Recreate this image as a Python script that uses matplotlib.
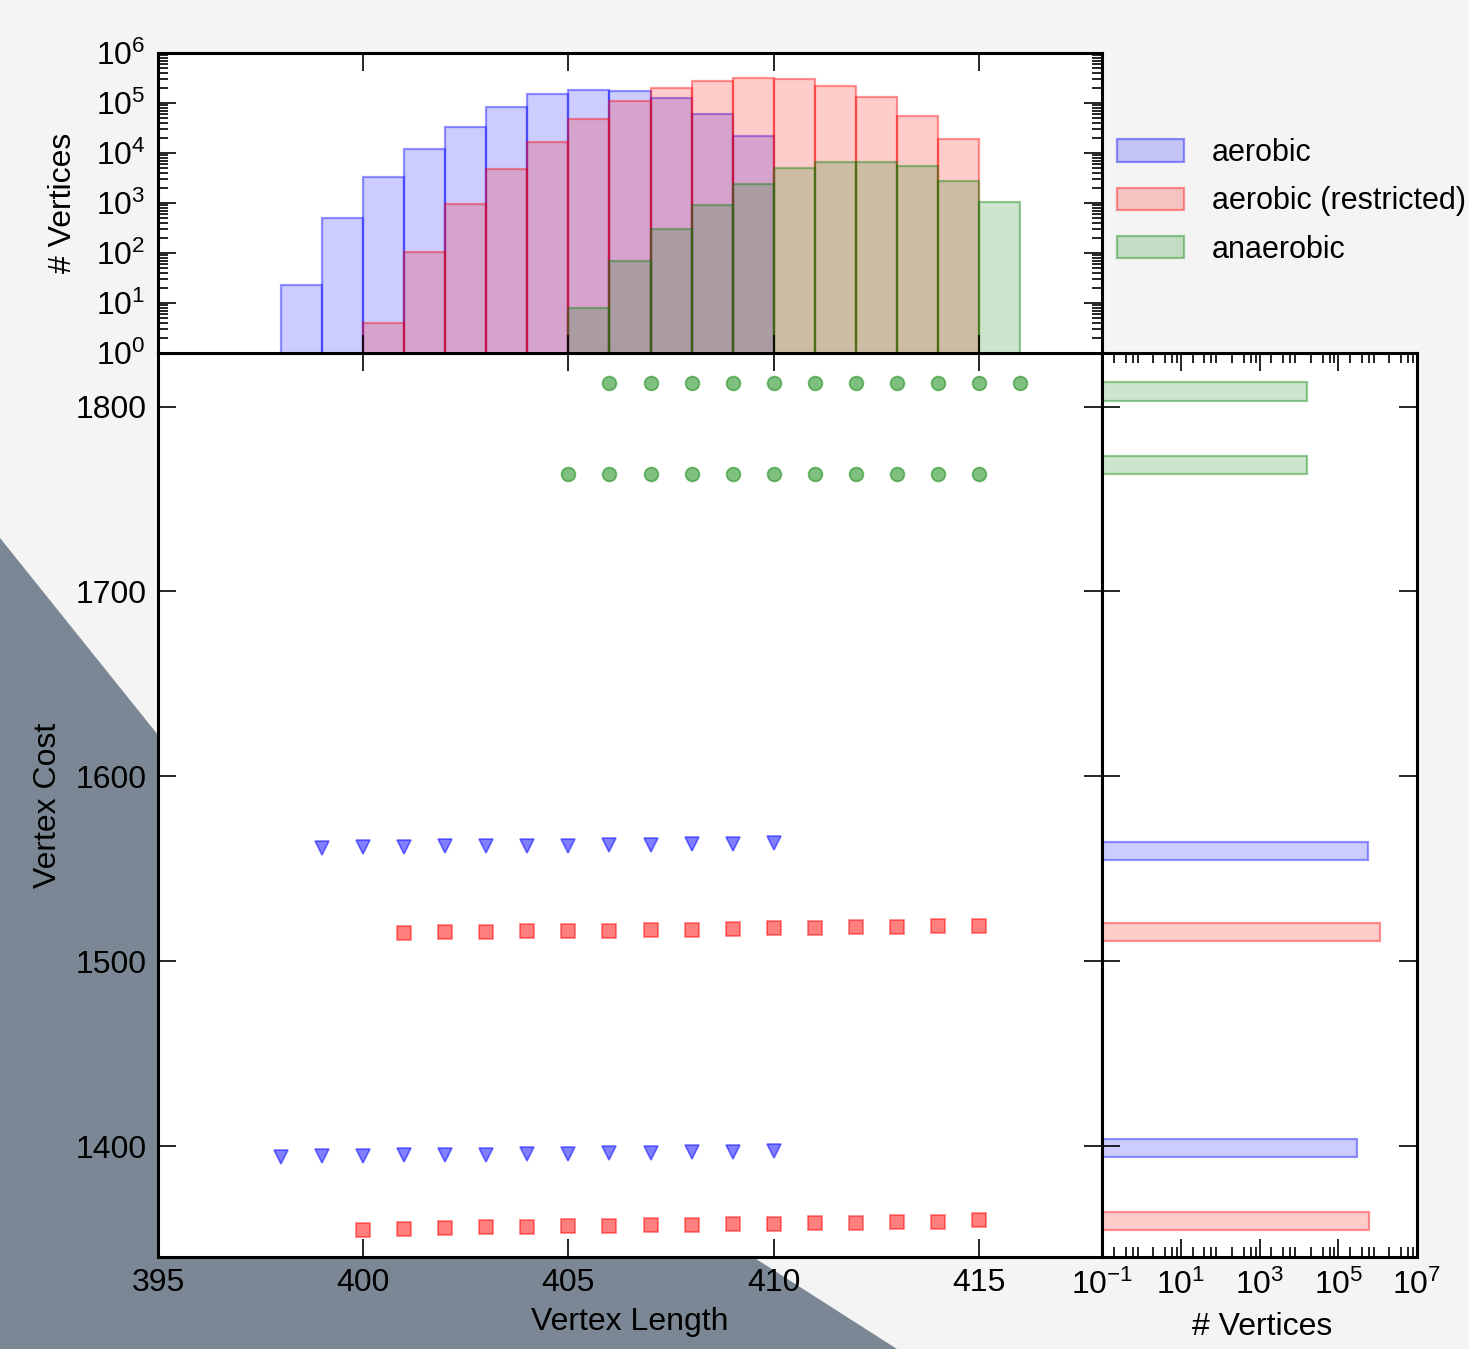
import matplotlib
matplotlib.use('Agg')
import matplotlib.pyplot as plt
from matplotlib.patches import Polygon
from matplotlib.ticker import FixedLocator, LogLocator, NullFormatter
import numpy as np

plt.rcParams['font.family'] = ['Liberation Sans', 'DejaVu Sans']
plt.rcParams['font.size'] = 23
plt.rcParams['mathtext.fontset'] = 'custom'
plt.rcParams['mathtext.rm'] = 'Liberation Sans'
plt.rcParams['mathtext.it'] = 'Liberation Sans:italic'
plt.rcParams['mathtext.bf'] = 'Liberation Sans:bold'
plt.rcParams['mathtext.sf'] = 'Liberation Sans'

# scatter: vertex length vs vertex cost
aer_len_hi = [399, 400, 401, 402, 403, 404, 405, 406, 407, 408, 409, 410]
aer_cost_hi = [1561.2, 1561.6, 1561.8, 1562.2, 1562.2, 1562.3, 1562.5, 1562.7, 1562.9, 1563.2, 1563.2, 1564.0]
aer_len_lo = [398, 399, 400, 401, 402, 403, 404, 405, 406, 407, 408, 409, 410]
aer_cost_lo = [1394.0, 1394.5, 1394.8, 1395.1, 1395.2, 1395.3, 1395.7, 1395.9, 1396.0, 1396.4, 1396.6, 1396.8, 1397.4]

res_len_hi = [401, 402, 403, 404, 405, 406, 407, 408, 409, 410, 411, 412, 413, 414, 415]
res_cost_hi = [1515.0, 1515.6, 1515.9, 1516.1, 1516.3, 1516.6, 1516.9, 1517.1, 1517.5, 1517.8, 1518.1, 1518.4, 1518.6, 1518.9, 1519.3]
res_len_lo = [400, 401, 402, 403, 404, 405, 406, 407, 408, 409, 410, 411, 412, 413, 414, 415]
res_cost_lo = [1354.6, 1355.0, 1355.5, 1356.0, 1356.3, 1356.5, 1356.7, 1357.1, 1357.3, 1357.7, 1358.0, 1358.2, 1358.6, 1358.8, 1359.2, 1360.0]

ana_len_hi = [406, 407, 408, 409, 410, 411, 412, 413, 414, 415, 416]
ana_cost_hi = [1813.0] * 11
ana_len_lo = [405, 406, 407, 408, 409, 410, 411, 412, 413, 414, 415]
ana_cost_lo = [1763.3] * 11

# length histogram (left bin edges, counts)
aer_bins = [398, 399, 400, 401, 402, 403, 404, 405, 406, 407, 408, 409]
aer_counts = [23, 494, 3250, 12000, 33100, 84500, 149000, 178000, 174000, 124000, 60300, 22100]
res_bins = [400, 401, 402, 403, 404, 405, 406, 407, 408, 409, 410, 411, 412, 413, 414]
res_counts = [4, 103, 955, 4790, 16300, 47000, 110000, 197000, 275000, 320000, 296000, 219000, 130000, 55000, 19000]
ana_bins = [405, 406, 407, 408, 409, 410, 411, 412, 413, 414, 415]
ana_counts = [8, 70, 302, 912, 2450, 5100, 6500, 6500, 5400, 2700, 1060]

# cost histogram (bin low, bin high, counts)
aer_cbin_lo = [1394.3, 1554.9]
aer_cbin_hi = [1404.1, 1564.6]
aer_ccounts = [300000, 577000]
res_cbin_lo = [1354.8, 1510.7]
res_cbin_hi = [1364.6, 1520.5]
res_ccounts = [590000, 1170000]
ana_cbin_lo = [1763.3, 1803.3]
ana_cbin_hi = [1773.1, 1813.1]
ana_ccounts = [16500, 16500]

labels = ['aerobic', 'aerobic (restricted)', 'anaerobic']
colors = ['#0000ff', '#ff0000', '#008000']

W, H = 1469, 1349
fig = plt.figure(figsize=(W / 100, H / 100), dpi=100, facecolor='#f4f4f4')

# slate background shape, lower left
pts = [(0, 538), (158, 735), (753, 1257), (897, 1349), (0, 1349)]
fig.patches.append(Polygon([(x / W, 1 - y / H) for x, y in pts], closed=True,
                           transform=fig.transFigure, facecolor='#7b8794',
                           edgecolor='none', zorder=-10))


def fx(p):
    return p / W


def fy(p):
    return 1 - p / H


ax = fig.add_axes([fx(158), fy(1257), (1102 - 158) / W, (1257 - 353) / H])
axt = fig.add_axes([fx(158), fy(353), (1102 - 158) / W, (353 - 53) / H], sharex=ax)
axr = fig.add_axes([fx(1102), fy(1257), (1417 - 1102) / W, (1257 - 353) / H], sharey=ax)

ms = 10
ax.plot(aer_len_hi, aer_cost_hi, 'v', color=colors[0], alpha=0.5, ms=ms, mew=1.2)
ax.plot(aer_len_lo, aer_cost_lo, 'v', color=colors[0], alpha=0.5, ms=ms, mew=1.2)
ax.plot(res_len_hi, res_cost_hi, 's', color=colors[1], alpha=0.5, ms=ms, mew=1.2)
ax.plot(res_len_lo, res_cost_lo, 's', color=colors[1], alpha=0.5, ms=ms, mew=1.2)
ax.plot(ana_len_hi, ana_cost_hi, 'o', color=colors[2], alpha=0.5, ms=ms, mew=1.2)
ax.plot(ana_len_lo, ana_cost_lo, 'o', color=colors[2], alpha=0.5, ms=ms, mew=1.2)

ax.set_xlim(395, 418)
ax.set_ylim(1340, 1829)
ax.set_xticks([395, 400, 405, 410, 415])
ax.set_yticks([1400, 1500, 1600, 1700, 1800])

hist_sets = [(aer_bins, aer_counts), (res_bins, res_counts), (ana_bins, ana_counts)]
for (b, c), col, lab in zip(hist_sets, colors, labels):
    rgb = matplotlib.colors.to_rgb(col)
    axt.bar(b, c, width=1, align='edge', facecolor=rgb + (0.2,),
            edgecolor=rgb + (0.4,), linewidth=1.6, label=lab)
axt.set_yscale('log')
axt.set_ylim(1, 1e6)
axt.yaxis.set_major_locator(FixedLocator([1e0, 1e1, 1e2, 1e3, 1e4, 1e5, 1e6]))
axt.yaxis.set_minor_locator(LogLocator(base=10, subs=np.arange(2, 10), numticks=20))
axt.yaxis.set_minor_formatter(NullFormatter())
axt.tick_params(labelbottom=False)

cost_sets = [(aer_cbin_lo, aer_cbin_hi, aer_ccounts),
             (res_cbin_lo, res_cbin_hi, res_ccounts),
             (ana_cbin_lo, ana_cbin_hi, ana_ccounts)]
for (lo, hi, c), col in zip(cost_sets, colors):
    rgb = matplotlib.colors.to_rgb(col)
    axr.barh(lo, c, height=np.array(hi) - np.array(lo), align='edge',
             facecolor=rgb + (0.2,), edgecolor=rgb + (0.4,), linewidth=1.6)
axr.set_xscale('log')
axr.set_xlim(1e-1, 1e7)
axr.xaxis.set_major_locator(FixedLocator([1e-1, 1e1, 1e3, 1e5, 1e7]))
axr.xaxis.set_minor_locator(LogLocator(base=10, subs=(2, 4, 6, 8), numticks=30))
axr.xaxis.set_minor_formatter(NullFormatter())
axr.tick_params(labelleft=False)

for a in (ax, axt, axr):
    for s in a.spines.values():
        s.set_linewidth(2.2)
    a.set_facecolor('white')
    a.tick_params(which='both', direction='in', top=True, right=True, width=1.2)
    a.tick_params(which='major', length=13)
    a.tick_params(which='minor', length=7)
ax.tick_params(axis='x', pad=8)
ax.tick_params(axis='y', pad=8)
axt.tick_params(axis='y', pad=9)
axr.tick_params(axis='x', pad=9)

ax.set_xlabel('Vertex Length', va='center')
ax.xaxis.set_label_coords(0.5, (1257 - 1322) / 904)
ax.set_ylabel('Vertex Cost', va='center')
ax.yaxis.set_label_coords((48 - 158) / 944, 0.5)
axt.set_ylabel('# Vertices', va='center')
axt.yaxis.set_label_coords((63 - 158) / 944, 0.5)
axr.set_xlabel('# Vertices', va='center')
axr.xaxis.set_label_coords(0.508, (1257 - 1327) / 904)

axt.legend(loc='center left', bbox_to_anchor=(1.0, 0.505), frameon=False,
           fontsize=22, handlelength=2.2, handleheight=0.75, handletextpad=0.9,
           labelspacing=0.6, borderaxespad=0.15, borderpad=0.35)

fig.savefig('out.png', dpi=100, facecolor=fig.get_facecolor())
